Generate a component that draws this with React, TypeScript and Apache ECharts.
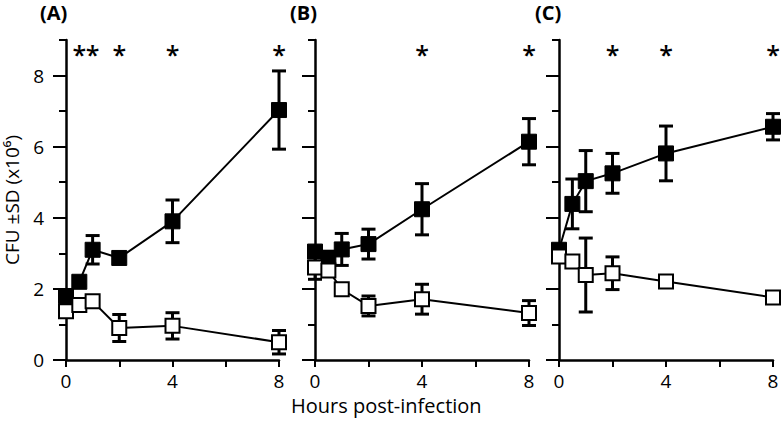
import React, { useEffect, useRef } from "react";
import * as echarts from "echarts";

const hours = [0, 0.5, 1, 2, 4, 8];

const aFilledMean = [1.8, 2.2, 3.1, 2.87, 3.9, 7.03];
const aFilledSd = [0.15, 0.1, 0.4, 0.1, 0.6, 1.1];
const aOpenMean = [1.37, 1.55, 1.65, 0.9, 0.96, 0.5];
const aOpenSd = [0.12, 0.1, 0.12, 0.38, 0.37, 0.33];

const bFilledMean = [3.05, 2.86, 3.11, 3.26, 4.24, 6.14];
const bFilledSd = [0.12, 0.2, 0.45, 0.42, 0.72, 0.65];
const bOpenMean = [2.6, 2.52, 1.99, 1.52, 1.71, 1.32];
const bOpenSd = [0.33, 0.15, 0.1, 0.28, 0.42, 0.35];

const cFilledMean = [3.1, 4.39, 5.03, 5.25, 5.81, 6.56];
const cFilledSd = [0.15, 0.7, 0.86, 0.56, 0.77, 0.37];
const cOpenMean = [2.91, 2.77, 2.39, 2.44, 2.21, 1.76];
const cOpenSd = [0.1, 0.1, 1.04, 0.46, 0.1, 0.1];

const aStars = [0.5, 1, 2, 4, 8];
const bStars = [4, 8];
const cStars = [2, 4, 8];
const starLevel = 8.62;

const panelLabels = ["(A)", "(B)", "(C)"];
const yMajorTicks = [0, 2, 4, 6, 8];
const yMinorTicks = [1, 3, 5, 7, 9];
const xTicks = [0, 2, 4, 6, 8];
const xLabels = [0, 4, 8];

const FONT = "'Open Sans', 'Noto Sans', sans-serif";

const panels = [
  { fm: aFilledMean, fs: aFilledSd, om: aOpenMean, os: aOpenSd, stars: aStars },
  { fm: bFilledMean, fs: bFilledSd, om: bOpenMean, os: bOpenSd, stars: bStars },
  { fm: cFilledMean, fs: cFilledSd, om: cOpenMean, os: cOpenSd, stars: cStars },
];

const gridLefts = [66, 315, 559];
const gridWidths = [213, 214, 214];

function errRender(params: any, api: any) {
  const x = api.value(0);
  const lo = api.coord([x, api.value(1)]);
  const hi = api.coord([x, api.value(2)]);
  const w = 7;
  const style = { stroke: "#000", lineWidth: 3 };
  return {
    type: "group",
    children: [
      { type: "line", shape: { x1: lo[0], y1: lo[1], x2: hi[0], y2: hi[1] }, style },
      { type: "line", shape: { x1: hi[0] - w, y1: hi[1], x2: hi[0] + w, y2: hi[1] }, style },
      { type: "line", shape: { x1: lo[0] - w, y1: lo[1], x2: lo[0] + w, y2: lo[1] }, style },
    ],
  };
}

function starRender(params: any, api: any) {
  const p = api.coord([api.value(0), api.value(1)]);
  return {
    type: "text",
    x: p[0],
    y: p[1],
    style: {
      text: "*",
      fill: "#000",
      font: `600 25px ${FONT}`,
      align: "center",
      verticalAlign: "middle",
    },
  };
}

export default function App() {
  const ref = useRef<HTMLDivElement>(null);
  useEffect(() => {
    if (!ref.current) return;
    const chart = echarts.init(ref.current, null, { renderer: "svg" });
    const grids: any[] = [];
    const xAxes: any[] = [];
    const yAxes: any[] = [];
    const series: any[] = [];
    panels.forEach((p, i) => {
      grids.push({ left: gridLefts[i], width: gridWidths[i], top: 40, height: 320 });
      xAxes.push({
        type: "value",
        gridIndex: i,
        min: 0,
        max: 8,
        splitLine: { show: false },
        axisLine: { show: true, onZero: false, lineStyle: { color: "#000", width: 2.5 } },
        axisTick: { show: true, customValues: xTicks, length: 7, lineStyle: { color: "#000", width: 2 } },
        axisLabel: { show: true, customValues: xLabels, margin: 11, color: "#000", fontSize: 19, fontFamily: FONT },
      });
      yAxes.push({
        type: "value",
        gridIndex: i,
        position: "left",
        min: 0,
        max: 9,
        splitLine: { show: false },
        axisLine: { show: true, onZero: false, lineStyle: { color: "#000", width: 2.5 } },
        axisTick: { show: true, customValues: yMajorTicks, length: 13, lineStyle: { color: "#000", width: 2 } },
        axisLabel: {
          show: i === 0,
          customValues: yMajorTicks,
          margin: 22,
          color: "#000",
          fontSize: 19,
          fontFamily: FONT,
        },
        name: i === 0 ? "CFU ±SD (x10⁶)" : "",
        nameLocation: "middle",
        nameRotate: 90,
        nameGap: 45,
        nameTextStyle: { color: "#000", fontSize: 19, fontFamily: FONT },
      });
      yAxes.push({
        type: "value",
        gridIndex: i,
        position: "left",
        min: 0,
        max: 9,
        splitLine: { show: false },
        axisLine: { show: false },
        axisTick: { show: true, customValues: yMinorTicks, length: 7, lineStyle: { color: "#000", width: 2 } },
        axisLabel: { show: false },
      });
      const yi = 2 * i;
      series.push({
        type: "custom",
        xAxisIndex: i,
        yAxisIndex: yi,
        renderItem: errRender,
        encode: { x: 0, y: [1, 2] },
        z: 1,
        data: hours.map((h, k) => [h, p.fm[k] - p.fs[k], p.fm[k] + p.fs[k]]),
      });
      series.push({
        type: "custom",
        xAxisIndex: i,
        yAxisIndex: yi,
        renderItem: errRender,
        encode: { x: 0, y: [1, 2] },
        z: 1,
        data: hours.map((h, k) => [h, p.om[k] - p.os[k], p.om[k] + p.os[k]]),
      });
      series.push({
        type: "line",
        xAxisIndex: i,
        yAxisIndex: yi,
        symbol: "rect",
        symbolSize: 15,
        z: 3,
        lineStyle: { color: "#000", width: 2 },
        itemStyle: { color: "#000", borderColor: "#000", borderWidth: 1 },
        data: hours.map((h, k) => [h, p.fm[k]]),
      });
      series.push({
        type: "line",
        xAxisIndex: i,
        yAxisIndex: yi,
        symbol: "rect",
        symbolSize: 14,
        z: 4,
        lineStyle: { color: "#000", width: 2 },
        itemStyle: { color: "#fff", borderColor: "#000", borderWidth: 2 },
        data: hours.map((h, k) => [h, p.om[k]]),
      });
      series.push({
        type: "custom",
        xAxisIndex: i,
        yAxisIndex: yi,
        renderItem: starRender,
        encode: { x: 0, y: 1 },
        z: 5,
        data: p.stars.map((s) => [s, starLevel]),
      });
    });
    const titles: any[] = panelLabels.map((t, i) => ({
      text: t,
      left: [40, 290, 535][i],
      top: 2,
      padding: 0,
      textStyle: { fontSize: 20, fontWeight: "bold", color: "#000", fontFamily: FONT },
    }));
    titles.push({
      text: "Hours post-infection",
      left: 291,
      top: 395,
      padding: 0,
      textStyle: { fontSize: 20, fontWeight: "normal", color: "#000", fontFamily: FONT },
    });
    chart.setOption({
      animation: false,
      backgroundColor: "#fff",
      title: titles,
      grid: grids,
      xAxis: xAxes,
      yAxis: yAxes,
      series,
    });
    return () => chart.dispose();
  }, []);
  return (
    <div
      ref={ref}
      style={{ position: "absolute", left: 0, top: 0, width: 784, height: 422 }}
    />
  );
}
